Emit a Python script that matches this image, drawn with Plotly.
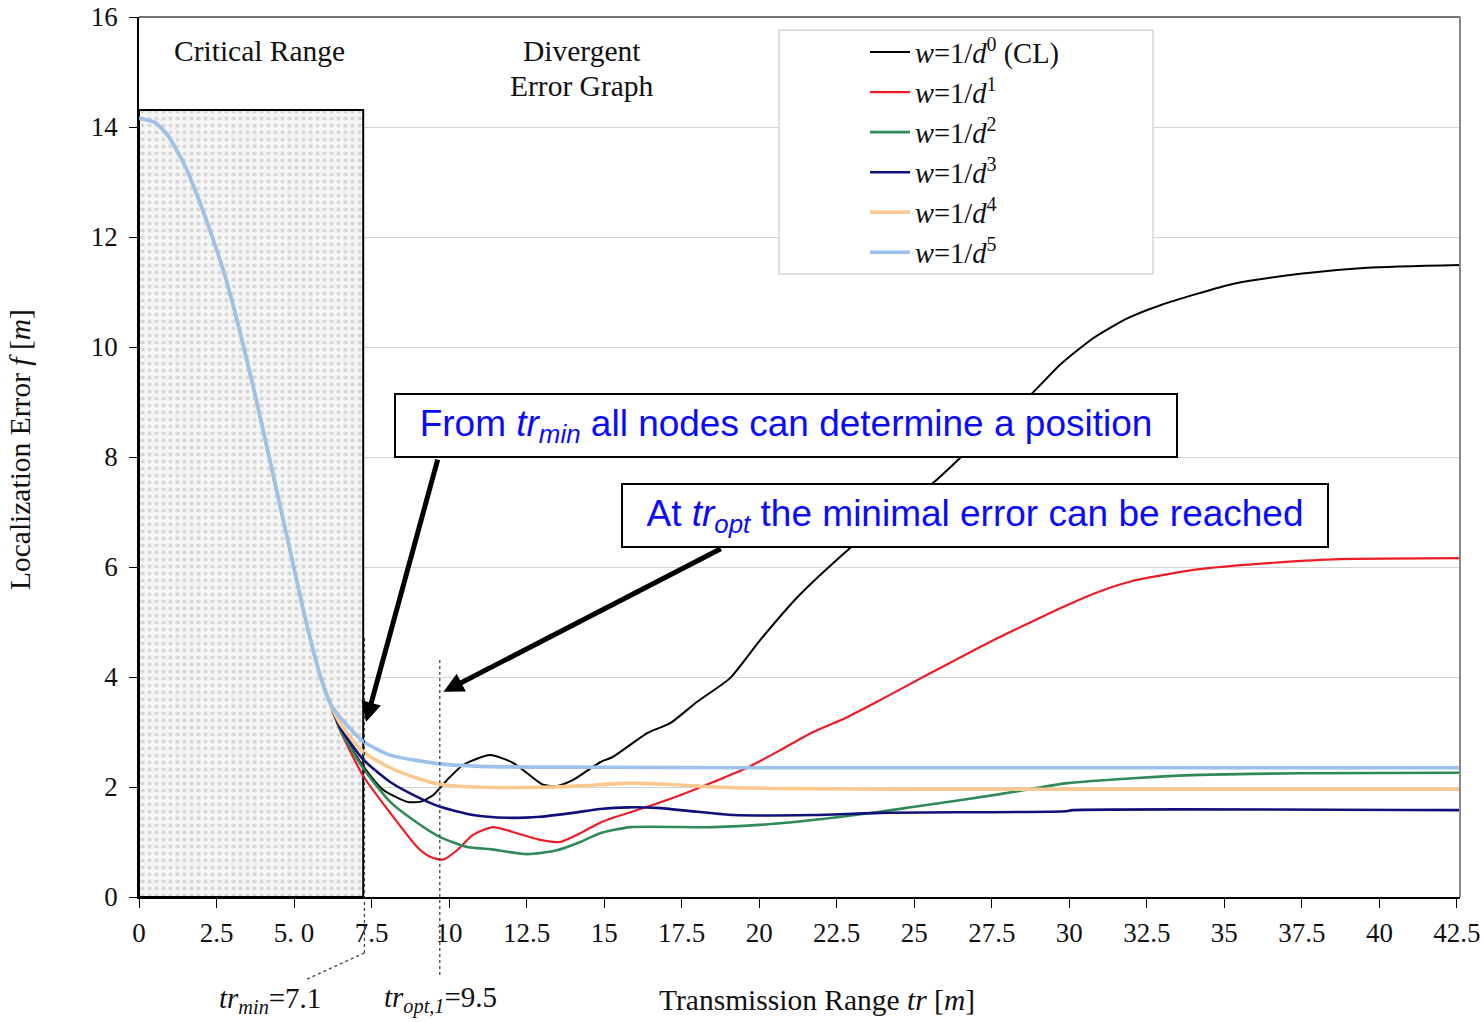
import plotly.graph_objects as go

# ---------------- data ----------------
common_x = [0, 0.52, 0.94, 1.48, 1.90, 2.35, 2.77, 3.10, 3.42, 3.74, 3.97, 4.32, 4.65, 4.97, 5.29, 5.61, 5.84, 6.16]
common_y = [14.16, 14.08, 13.84, 13.30, 12.72, 12.02, 11.30, 10.62, 9.90, 9.14, 8.57, 7.69, 6.86, 6.05, 5.24, 4.50, 4.03, 3.53]

w0_x = [6.48, 7.23, 7.87, 8.65, 9.06, 9.48, 9.94, 10.45, 11.32, 12.06, 12.52, 13.03, 13.48, 14.0, 14.87, 15.29, 16.39,
        17.13, 18.0, 19.06, 20.03, 21.3, 22.94, 24.2, 25.61, 26.48, 28.84, 29.71, 30.77, 31.87, 32.94, 35.3, 37.45, 39.6, 42.6]
w0_y = [3.06, 2.38, 1.95, 1.73, 1.73, 1.85, 2.13, 2.40, 2.58, 2.44, 2.25, 2.04, 2.02, 2.13, 2.45, 2.55, 2.98,
        3.16, 3.55, 3.98, 4.67, 5.49, 6.35, 6.95, 7.53, 7.98, 9.18, 9.68, 10.16, 10.52, 10.76, 11.15, 11.33, 11.44, 11.49]

w1_x = [6.48, 7.23, 8.10, 8.97, 9.39, 9.81, 10.26, 10.77, 11.42, 12.19, 12.94, 13.58, 14.23, 14.87, 15.29, 16.39, 17.45,
        18.52, 19.61, 20.68, 21.74, 22.84, 23.9, 25.42, 27.55, 28.84, 29.94, 31.0, 32.06, 34.2, 36.4, 38.5, 42.6]
w1_y = [3.04, 2.20, 1.53, 0.91, 0.73, 0.68, 0.85, 1.13, 1.27, 1.16, 1.04, 1.0, 1.16, 1.35, 1.44, 1.64, 1.85,
        2.09, 2.35, 2.67, 3.0, 3.27, 3.58, 4.04, 4.67, 5.02, 5.31, 5.56, 5.75, 5.96, 6.07, 6.14, 6.16]

w2_x = [6.48, 7.23, 8.10, 8.97, 9.71, 10.58, 11.32, 12.52, 13.48, 14.23, 14.87, 15.84, 18.52, 20.68, 23.9, 25.0,
        27.77, 29.94, 32.06, 34.2, 37.45, 42.6]
w2_y = [3.05, 2.34, 1.73, 1.35, 1.09, 0.91, 0.87, 0.78, 0.85, 1.0, 1.16, 1.27, 1.27, 1.34, 1.55, 1.64,
        1.87, 2.07, 2.16, 2.22, 2.25, 2.26]

w3_x = [6.48, 7.23, 8.10, 8.97, 9.71, 10.77, 11.87, 12.94, 14.0, 14.87, 15.8, 16.7, 18.0, 19.16, 21.74, 23.9, 29.9, 30.1, 42.6]
w3_y = [3.09, 2.50, 2.09, 1.82, 1.64, 1.49, 1.44, 1.46, 1.53, 1.60, 1.63, 1.62, 1.55, 1.49, 1.49, 1.53, 1.56, 1.58, 1.58]

w4_x = [6.48, 7.23, 8.10, 8.97, 9.71, 10.77, 12.5, 14.23, 15.8, 17.0, 18.5, 21.0, 25.0, 30.0, 42.6]
w4_y = [3.16, 2.64, 2.35, 2.16, 2.05, 2.0, 1.99, 2.02, 2.07, 2.05, 2.0, 1.97, 1.96, 1.96, 1.96]

w5_x = [6.48, 7.23, 8.10, 9.71, 11.32, 14.87, 20.0, 25.0, 30.0, 35.0, 42.6]
w5_y = [3.27, 2.83, 2.58, 2.42, 2.37, 2.36, 2.35, 2.35, 2.35, 2.35, 2.35]

series_names = ["<i>w</i>=1/<i>d</i><sup>0</sup> (CL)", "<i>w</i>=1/<i>d</i><sup>1</sup>",
                "<i>w</i>=1/<i>d</i><sup>2</sup>", "<i>w</i>=1/<i>d</i><sup>3</sup>",
                "<i>w</i>=1/<i>d</i><sup>4</sup>", "<i>w</i>=1/<i>d</i><sup>5</sup>"]
series_colors = ["#000000", "#ec1c24", "#2e8b57", "#10107a", "#fbc98f", "#9cc2ec"]
series_widths = [2.0, 2.2, 2.6, 2.6, 3.6, 3.6]

x_tickvals = [0, 2.5, 5, 7.5, 10, 12.5, 15, 17.5, 20, 22.5, 25, 27.5, 30, 32.5, 35, 37.5, 40, 42.5]
x_ticktext = ["0", "2.5", "5. 0", "7.5", "10", "12.5", "15", "17.5", "20", "22.5", "25", "27.5",
              "30", "32.5", "35", "37.5", "40", "42.5"]
y_tickvals = [0, 2, 4, 6, 8, 10, 12, 14, 16]

crit_end = 7.23      # right edge of the critical range box (axis units)
crit_top = 14.31     # top of the critical range box
tr_min_pos = 7.27
tr_opt_pos = 9.70
X_MAX = 42.6
Y_MAX = 16

SERIF = "Liberation Serif, Times New Roman, serif"
SANS = "Liberation Sans, Arial, sans-serif"

fig = go.Figure()

fig.add_trace(go.Bar(
    x=[crit_end / 2], y=[crit_top], width=[crit_end],
    marker=dict(color="#f3f3f3", line=dict(color="black", width=2),
                pattern=dict(shape=".", fgcolor="#b9b9b9", bgcolor="#f5f5f5", size=7, solidity=0.28)),
    showlegend=False, hoverinfo="skip"))

all_x = [w0_x, w1_x, w2_x, w3_x, w4_x, w5_x]
all_y = [w0_y, w1_y, w2_y, w3_y, w4_y, w5_y]
for name, col, wd, sx, sy in zip(series_names, series_colors, series_widths, all_x, all_y):
    fig.add_trace(go.Scatter(x=common_x + sx, y=common_y + sy, mode="lines", name=name,
                             line=dict(color=col, width=wd, shape="spline", smoothing=0.6)))

def px_x(v):
    return v / X_MAX

shapes = [
    # legend frame
    dict(type="rect", xref="paper", yref="paper", x0=0.4845, x1=0.7676, y0=0.708, y1=0.985,
         line=dict(color="#d6d6d6", width=1.5), fillcolor="white", layer="above"),
    # top and right frame
    dict(type="line", xref="paper", yref="paper", x0=0, x1=1, y0=1, y1=1, line=dict(color="#444444", width=1.5)),
    dict(type="line", xref="paper", yref="paper", x0=1, x1=1, y0=0, y1=1, line=dict(color="#888888", width=2)),
    # dotted guide lines
    dict(type="line", xref="paper", yref="paper", x0=px_x(tr_min_pos), x1=px_x(tr_min_pos), y0=-0.0636, y1=0.2955,
         line=dict(color="#444444", width=1.3, dash="dot"), layer="above"),
    dict(type="line", xref="paper", yref="paper", x0=px_x(tr_min_pos), x1=0.1257, y0=-0.0636, y1=-0.0943,
         line=dict(color="#444444", width=1.3, dash="dot"), layer="above"),
    dict(type="line", xref="paper", yref="paper", x0=px_x(tr_opt_pos), x1=px_x(tr_opt_pos), y0=-0.0886, y1=0.2727,
         line=dict(color="#444444", width=1.3, dash="dot"), layer="above"),
]

def note(text, x, y, xref="paper", yref="paper", size=29.5, **kw):
    return dict(text=text, x=x, y=y, xref=xref, yref=yref, showarrow=False, xanchor="center",
                yanchor="middle", font=dict(family=SERIF, size=size, color="#111"), **kw)

annotations = [
    note("Critical Range", 3.9, 15.38, "x", "y"),
    note("Divergent", 14.29, 15.38, "x", "y"),
    note("Error Graph", 14.29, 14.745, "x", "y"),
    note("Transmission Range <i>tr</i> [<i>m</i>]", 0.513, -0.117),
    note("Localization Error <i>f</i> [<i>m</i>]", -0.090, 0.508, textangle=-90),
    note("<i>tr<sub>min</sub></i>=7.1", 0.0992, -0.117, size=29),
    note("<i>tr<sub>opt,1</sub></i>=9.5", 0.2279, -0.117, size=29),
    # arrows
    dict(text="", x=7.32, y=3.18, xref="x", yref="y", ax=9.645, ay=7.98, axref="x", ayref="y",
         showarrow=True, arrowhead=2, arrowsize=0.8, arrowwidth=5, arrowcolor="black", standoff=0),
    dict(text="", x=9.82, y=3.73, xref="x", yref="y", ax=18.81, ay=6.345, axref="x", ayref="y",
         showarrow=True, arrowhead=2, arrowsize=0.8, arrowwidth=5, arrowcolor="black", standoff=0),
    # text boxes
    dict(text="From <i>tr<sub>min</sub></i> all nodes can determine a position", x=0.4898, y=0.5358,
         xref="paper", yref="paper", xanchor="center", yanchor="middle", showarrow=False,
         width=780, height=61, borderpad=0, bordercolor="black", borderwidth=2, bgcolor="white",
         font=dict(family=SANS, size=37, color="#0a0aff")),
    dict(text="At <i>tr<sub>opt</sub></i> the minimal error can be reached", x=0.6329, y=0.4335,
         xref="paper", yref="paper", xanchor="center", yanchor="middle", showarrow=False,
         width=704, height=61, borderpad=0, bordercolor="black", borderwidth=2, bgcolor="white",
         font=dict(family=SANS, size=37, color="#0a0aff")),
]

fig.update_layout(
    width=1484, height=1022,
    margin=dict(l=139, r=24, t=17, b=125, autoexpand=False),
    paper_bgcolor="white", plot_bgcolor="white",
    font=dict(family=SERIF, size=26, color="#111"),
    shapes=shapes, annotations=annotations,
    legend=dict(x=0.5496, y=0.9886, xanchor="left", yanchor="top", bgcolor="rgba(0,0,0,0)",
                borderwidth=0, font=dict(family=SERIF, size=28.5, color="#111"), itemwidth=40,
                traceorder="normal"),
    xaxis=dict(range=[0, X_MAX], tickvals=x_tickvals, ticktext=x_ticktext, showgrid=False, zeroline=False,
               showline=True, linecolor="black", linewidth=1.5, ticks="outside", ticklen=9,
               tickcolor="black", tickfont=dict(family=SERIF, size=27, color="#111"), ticklabelstandoff=2),
    yaxis=dict(range=[0, Y_MAX], tickvals=y_tickvals, showgrid=True, gridcolor="#d4d4d4", gridwidth=1,
               zeroline=False, showline=True, linecolor="black", linewidth=1.5, ticks="outside", ticklen=8,
               tickcolor="black", tickfont=dict(family=SERIF, size=27, color="#111"), ticklabelstandoff=6),
    showlegend=True,
)

fig.write_html("out.html")
